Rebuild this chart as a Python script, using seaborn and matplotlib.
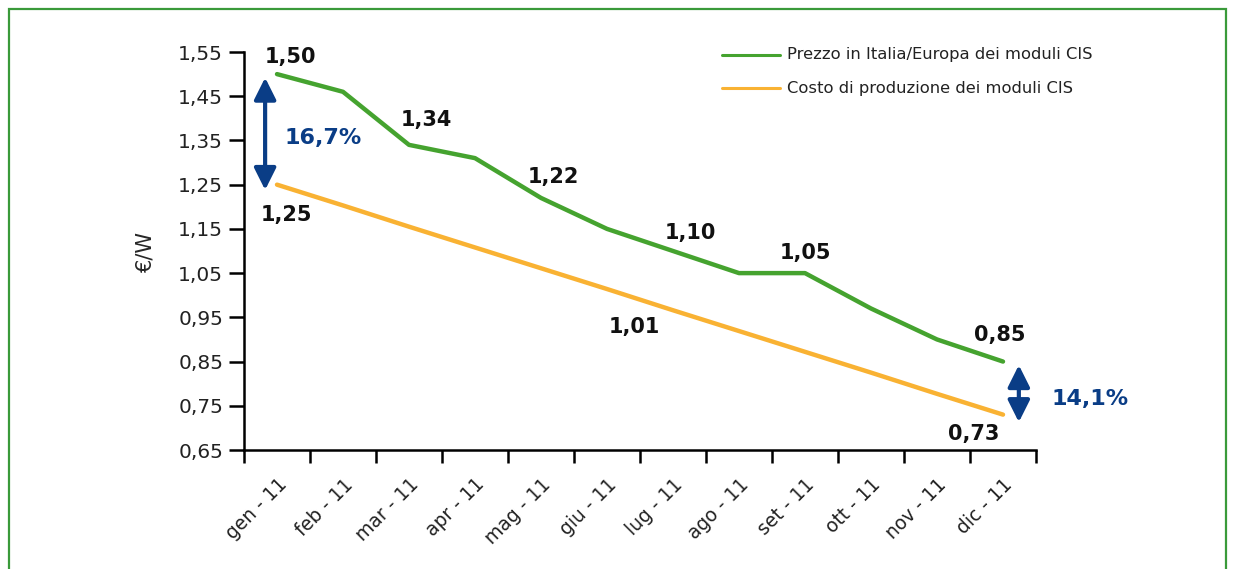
import matplotlib
matplotlib.use("Agg")
import matplotlib.pyplot as plt
import seaborn as sns
import pandas as pd
import numpy as np
from matplotlib.patches import Rectangle

months = ["gen - 11", "feb - 11", "mar - 11", "apr - 11", "mag - 11", "giu - 11",
          "lug - 11", "ago - 11", "set - 11", "ott - 11", "nov - 11", "dic - 11"]
prezzo = [1.50, 1.46, 1.34, 1.31, 1.22, 1.15, 1.10, 1.05, 1.05, 0.97, 0.90, 0.85]
costo = [1.250, 1.203, 1.155, 1.108, 1.061, 1.014, 0.966, 0.919, 0.872, 0.825, 0.777, 0.730]
yticks = [0.65, 0.75, 0.85, 0.95, 1.05, 1.15, 1.25, 1.35, 1.45, 1.55]
name_p = "Prezzo in Italia/Europa dei moduli CIS"
name_c = "Costo di produzione dei moduli CIS"

GREEN = "#45a32f"
ORANGE = "#f9b233"
NAVY = "#0a3d86"

sns.set_theme(style="white")
plt.rcParams["font.family"] = ["DejaVu Sans"]

df = pd.DataFrame({
    "x": list(range(len(months))) * 2,
    "val": prezzo + costo,
    "serie": [name_p] * len(months) + [name_c] * len(months),
})

fig = plt.figure(figsize=(12.33, 5.69), dpi=100)
fig.patches.append(Rectangle((9 / 1233, -0.05), 1217 / 1233, 1 - 9 / 569 + 0.05,
                             transform=fig.transFigure, fill=False,
                             edgecolor="#3a9a3a", linewidth=1.6))
ax = fig.add_axes([244 / 1233, 1 - 450 / 569, (1036 - 244) / 1233, (450 - 52) / 569])

sns.lineplot(data=df, x="x", y="val", hue="serie", palette=[GREEN, ORANGE],
             linewidth=3.2, ax=ax, legend=False, solid_capstyle="round")

ax.set_xlim(-0.5, 11.5)
ax.set_ylim(0.65, 1.55)
ax.set_yticks(yticks)
ax.set_yticklabels([f"{v:.2f}".replace(".", ",") for v in yticks], fontsize=14.5, color="#222222")
ax.set_xticks(range(len(months)))
ax.set_xticklabels(months, rotation=45, ha="right", rotation_mode="anchor",
                   fontsize=13.5, color="#222222")
ax.set_xticks(np.arange(-0.5, 12, 1), minor=True)
ax.tick_params(axis="x", which="major", length=0, pad=18)
ax.tick_params(axis="x", which="minor", length=9, width=1.8, color="black", direction="out")
ax.tick_params(axis="y", length=11, width=1.8, color="black", direction="out", pad=4)
ax.xaxis.set_tick_params(bottom=True, which="both")
ax.yaxis.set_tick_params(left=True)
for s in ["top", "right"]:
    ax.spines[s].set_visible(False)
for s in ["left", "bottom"]:
    ax.spines[s].set_color("black")
    ax.spines[s].set_linewidth(1.8)
ax.set_xlabel("")
ax.set_ylabel("€/W", fontsize=15, labelpad=16)

# value labels
labels = [
    ("1,50", 0.21, 1.539), ("1,25", 0.15, 1.182), ("1,34", 2.26, 1.397),
    ("1,22", 4.18, 1.268), ("1,10", 6.26, 1.141), ("1,05", 8.0, 1.096),
    ("1,01", 5.42, 0.928), ("0,85", 10.95, 0.91), ("0,73", 10.56, 0.686),
]
for t, x, y in labels:
    ax.text(x, y, t, ha="center", va="center", fontsize=15, fontweight="bold",
            color="#111111", clip_on=False)
ax.text(0.70, 1.356, "16,7%", ha="center", va="center", fontsize=16,
        fontweight="bold", color=NAVY, clip_on=False)
ax.text(12.32, 0.765, "14,1%", ha="center", va="center", fontsize=16,
        fontweight="bold", color=NAVY, clip_on=False)

# double arrows
for x, y0, y1 in [(-0.18, 1.238, 1.492), (11.24, 0.713, 0.842)]:
    ax.annotate("", xy=(x, y1), xytext=(x, y0), annotation_clip=False,
                arrowprops=dict(arrowstyle="<|-|>,head_length=1.1,head_width=0.55",
                                color=NAVY, lw=3, shrinkA=0, shrinkB=0))

# legend
fig_leg = [(name_p, GREEN, 55), (name_c, ORANGE, 88)]
for name, col, py in fig_leg:
    fy = 1 - py / 569
    fig.lines.append(plt.Line2D([722 / 1233, 780 / 1233], [fy, fy], color=col,
                                linewidth=2.2, transform=fig.transFigure))
    fig.text(787 / 1233, fy, name, ha="left", va="center", fontsize=11.8, color="#222222")

fig.savefig("out.png", dpi=100)
